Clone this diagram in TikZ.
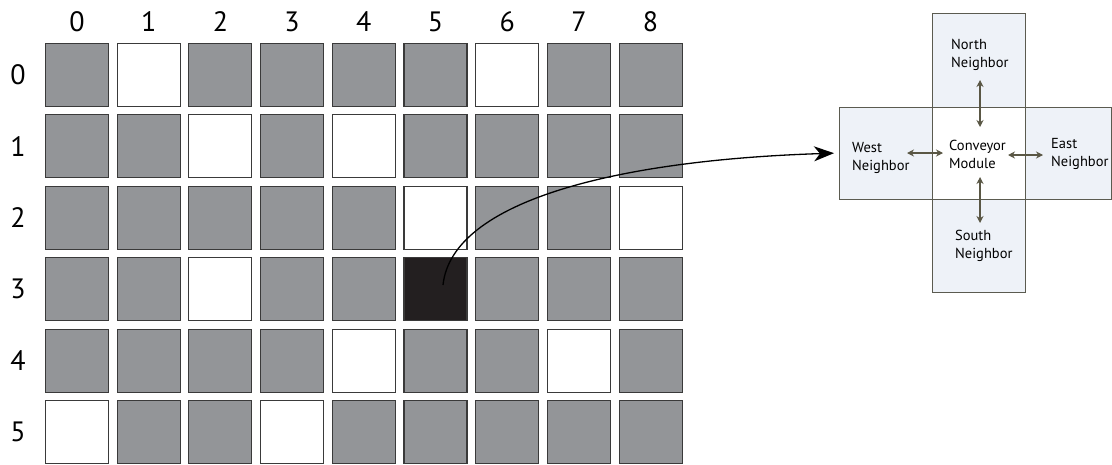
\documentclass[tikz,border=0pt]{standalone}
\usepackage{fontspec}
\setmainfont{PT Sans}
\usetikzlibrary{arrows.meta,calc}
\definecolor{cellgray}{HTML}{939598}
\definecolor{cellblack}{HTML}{231F20}
\definecolor{celledge}{HTML}{3A3A3A}
\definecolor{nbfill}{HTML}{EEF2F8}
\definecolor{nbedge}{HTML}{5B5B50}
\definecolor{arrcol}{HTML}{5A5745}
\tikzset{
  cellbox/.style={draw=celledge,line width=1.1pt,minimum width=63pt,minimum height=63pt,inner sep=0pt,fill=#1},
  idx/.style={font=\fontsize{28}{30}\selectfont,inner sep=0pt},
  nbbox/.style={draw=nbedge,line width=0.8pt,fill=nbfill},
  lbl/.style={font=\fontsize{14.5}{18}\selectfont,align=left,anchor=west,inner sep=0pt},
  twoway/.style={draw=arrcol,line width=1.1pt,{Stealth[length=7pt,width=7pt]}-{Stealth[length=7pt,width=7pt]}},
  link/.style={draw=black,line width=1.3pt,-{Stealth[length=20pt,width=15pt,inset=6pt]}}
}
\begin{document}
\begin{tikzpicture}[x=1pt,y=-1pt]
\useasboundingbox (0,0) rectangle (1112,464);
% column labels
\foreach \c in {0,...,8} {
  \node[idx] (col\c) at ({77+71.7*\c},22) {\c};
}
\foreach \r in {0,...,5} {
  \node[idx] (row\r) at (18,{75+71.4*\r}) {\r};
}
% cells
\foreach \r/\c/\f in {
 0/0/cellgray,0/1/white,0/2/cellgray,0/3/cellgray,0/4/cellgray,0/5/cellgray,0/6/white,0/7/cellgray,0/8/cellgray,
 1/0/cellgray,1/1/cellgray,1/2/white,1/3/cellgray,1/4/white,1/5/cellgray,1/6/cellgray,1/7/cellgray,1/8/cellgray,
 2/0/cellgray,2/1/cellgray,2/2/cellgray,2/3/cellgray,2/4/cellgray,2/5/white,2/6/cellgray,2/7/cellgray,2/8/white,
 3/0/cellgray,3/1/cellgray,3/2/white,3/3/cellgray,3/4/cellgray,3/5/cellblack,3/6/cellgray,3/7/cellgray,3/8/cellgray,
 4/0/cellgray,4/1/cellgray,4/2/cellgray,4/3/cellgray,4/4/white,4/5/cellgray,4/6/cellgray,4/7/white,4/8/cellgray,
 5/0/white,5/1/cellgray,5/2/cellgray,5/3/white,5/4/cellgray,5/5/cellgray,5/6/cellgray,5/7/cellgray,5/8/cellgray} {
  \node[cellbox=\f] (cell-\r-\c) at ({77+71.7*\c},{75+71.4*\r}) {};
}
% neighbourhood cross
\draw[nbbox] (932,13) rectangle (1025,107);
\draw[nbbox] (839,107) rectangle (932,199);
\draw[nbbox] (1025,107) rectangle (1111.5,199);
\draw[nbbox] (932,199) rectangle (1025,292);
\draw[nbbox,fill=white] (932,107) rectangle (1025,199);
\coordinate (westedge) at (839,153);
\node[lbl] (north) at (951,54.5) {North\\Neighbor};
\node[lbl] (west) at (852,157.5) {West\\Neighbor};
\node[lbl] (center) at (949,154) {Conveyor\\Module};
\node[lbl] (east) at (1051,154) {East\\Neighbor};
\node[lbl] (south) at (955,245.5) {South\\Neighbor};
\path[twoway] (980,80) -- (980,127);
\path[twoway] (980,177) -- (980,223);
\path[twoway] (907,153) -- (943,153);
\path[twoway] (1008,155) -- (1043,155);
% link from selected cell
\coordinate (start) at (443,285);
\path[link,shorten >=5pt] (start) .. controls (452,200) and (620,160) .. (westedge);
\end{tikzpicture}
\end{document}
